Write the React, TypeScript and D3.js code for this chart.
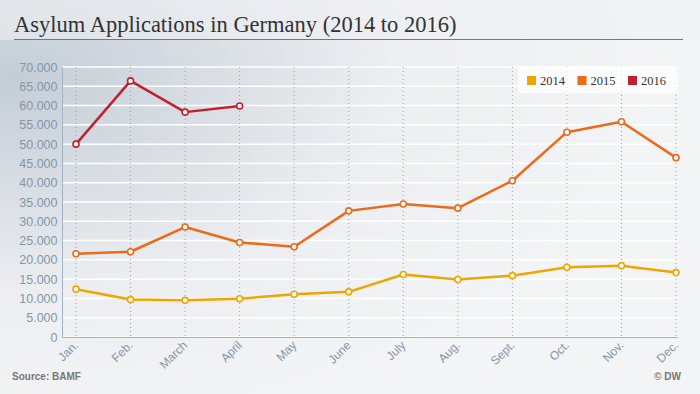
import React from "react";
import * as d3 from "d3";

const months = ["Jan.", "Feb.", "March", "April", "May", "June", "July", "Aug.", "Sept.", "Oct.", "Nov.", "Dec."];
const values2014 = [12400, 9700, 9500, 9900, 11100, 11700, 16200, 14900, 15900, 18100, 18500, 16700];
const values2015 = [21600, 22100, 28500, 24500, 23400, 32700, 34500, 33400, 40500, 53100, 55800, 46500];
const values2016 = [50000, 66400, 58300, 59900];
const yTicks = [0, 5000, 10000, 15000, 20000, 25000, 30000, 35000, 40000, 45000, 50000, 55000, 60000, 65000, 70000];
const seriesNames = ["2014", "2015", "2016"];
const seriesColors = ["#f0a500", "#ec6a1a", "#c22032"];

const W = 700, H = 394;
const left = 62, right = 678, top = 67, bottom = 337;

export default function App() {
  const x = d3.scalePoint<string>().domain(months).range([76, 676]);
  const y = d3.scaleLinear().domain([0, 70000]).range([bottom, top]);
  const fmt = (v: number) => (v === 0 ? "0" : d3.format(",")(v).replace(/,/g, "."));
  const line = d3.line<number>().x((_, i) => x(months[i])!).y((d) => y(d));
  const allSeries = [values2014, values2015, values2016];

  return (
    <svg width={W} height={H} style={{ position: "absolute", left: 0, top: 0 }}>
      <defs>
        <radialGradient id="bg" cx="0.02" cy="0.2" r="0.9" gradientUnits="objectBoundingBox">
          <stop offset="0" stopColor="#c4cdd6" />
          <stop offset="0.6" stopColor="#eceef1" />
          <stop offset="1" stopColor="#f3f4f6" />
        </radialGradient>
      </defs>
      <rect x={0} y={0} width={W} height={H} fill="url(#bg)" />
      <rect x={0} y={0} width={W} height={40} fill="#eef0f3" opacity={0.6} />
      <text x={14} y={32} fontSize={22.5} fill="#333" style={{ fontFamily: "Georgia, 'Liberation Serif', serif" }}>
        Asylum Applications in Germany (2014 to 2016)
      </text>
      <line x1={14} x2={683} y1={39.5} y2={39.5} stroke="#777" strokeWidth={1} />

      {yTicks.map((t) => (
        <line key={"g" + t} x1={left} x2={right} y1={y(t)} y2={y(t)} stroke="#ffffff" strokeWidth={1.5} />
      ))}
      {months.map((m) => (
        <line key={"v" + m} x1={x(m)} x2={x(m)} y1={top} y2={bottom} stroke="#9aa3ad" strokeWidth={1} strokeDasharray="1,3" />
      ))}
      <line x1={left + 0.5} x2={left + 0.5} y1={top} y2={bottom} stroke="#a3b2c0" strokeWidth={1} />
      <line x1={left} x2={right} y1={bottom + 0.5} y2={bottom + 0.5} stroke="#a3b2c0" strokeWidth={1} />

      {yTicks.map((t) => (
        <text key={"yl" + t} x={57.5} y={y(t) + 4.5} textAnchor="end" fontFamily="'Liberation Sans', Arial, sans-serif" fontSize={12.5} fill="#8596a8">
          {fmt(t)}
        </text>
      ))}
      {months.map((m) => (
        <text key={"xl" + m} transform={`translate(${x(m)! + 3},${bottom + 9}) rotate(-45)`} textAnchor="end" fontFamily="'Liberation Sans', Arial, sans-serif" fontSize={12} fill="#8596a8">
          {m}
        </text>
      ))}

      {allSeries.map((s, si) => (
        <g key={"s" + si}>
          <path d={line(s)!} fill="none" stroke={seriesColors[si]} strokeWidth={2.5} strokeLinejoin="round" />
          {s.map((v, i) => (
            <circle key={i} cx={x(months[i])} cy={y(v)} r={3} fill="#fff" stroke={seriesColors[si]} strokeWidth={1.6} />
          ))}
        </g>
      ))}

      <rect x={518} y={67} width={160} height={26} fill="#ffffff" opacity={0.7} />
      {seriesNames.map((n, i) => (
        <g key={"lg" + n} transform={`translate(${527 + i * 50.5},76)`}>
          <rect x={0} y={0} width={9} height={9} fill={seriesColors[i]} />
          <text x={13} y={9} fontSize={12.5} fill="#333" style={{ fontFamily: "Georgia, 'Liberation Serif', serif" }}>{n}</text>
        </g>
      ))}

      <text x={12} y={380} fontFamily="'Liberation Sans', Arial, sans-serif" fontSize={10} fontWeight="bold" fill="#777">Source: BAMF</text>
      <text x={681} y={380} textAnchor="end" fontFamily="'Liberation Sans', Arial, sans-serif" fontSize={10} fontWeight="bold" fill="#777">© DW</text>
    </svg>
  );
}
